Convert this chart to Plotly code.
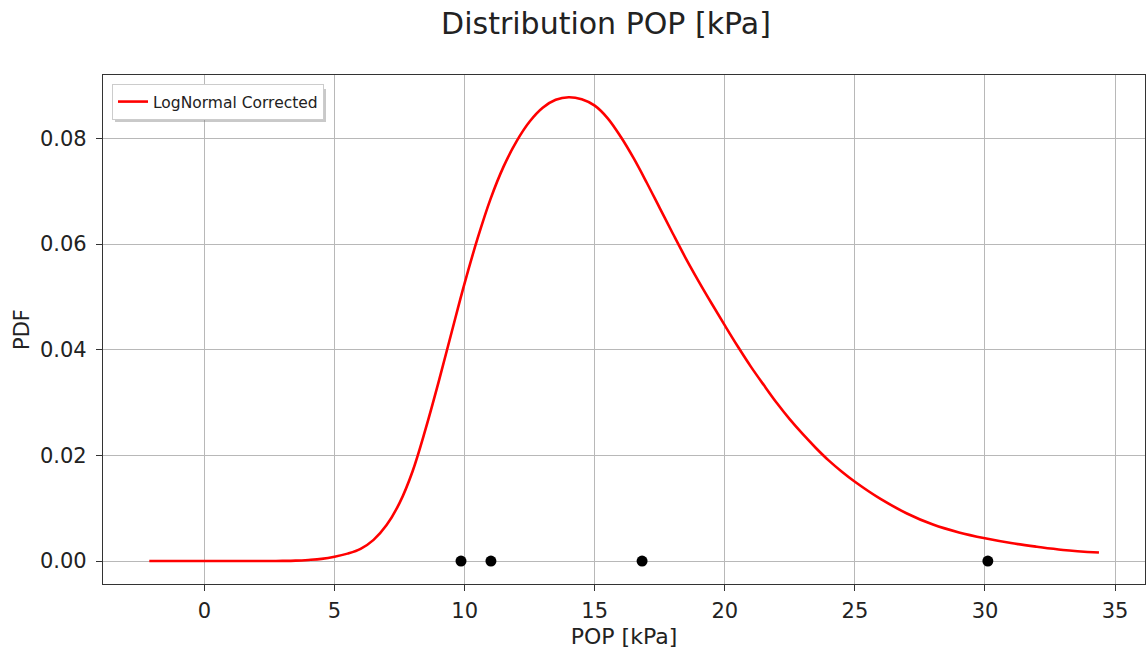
import plotly.graph_objects as go

# Fitted log-normal PDF (corrected), sampled along POP [kPa]
pop_curve = [-2.12, -1.0, 0.0, 1.0, 2.0, 2.5, 3.0, 3.5, 4.0, 4.5, 5.0, 5.5, 6.0, 6.5,
             7.0, 7.5, 8.0, 8.5, 9.0, 9.5, 10.0, 10.5, 11.0, 11.5, 12.0, 12.5, 13.0,
             13.5, 14.0, 14.5, 15.0, 15.5, 16.0, 16.5, 17.0, 17.5, 18.0, 18.5, 19.0,
             19.5, 20.0, 20.5, 21.0, 21.5, 22.0, 22.5, 23.0, 23.5, 24.0, 24.5, 25.0,
             26.0, 27.0, 28.0, 29.0, 30.0, 31.0, 32.0, 33.0, 34.38]
pdf_curve = [0.0, 0.0, 0.0, 0.0, 0.0, 0.000005, 0.00002, 0.00007, 0.0002, 0.0004,
             0.0008, 0.0014, 0.0023, 0.0040, 0.0068, 0.0110, 0.0170, 0.0250, 0.0339,
             0.0433, 0.0526, 0.0611, 0.0686, 0.0747, 0.0795, 0.0832, 0.0858, 0.0873,
             0.0878, 0.0874, 0.0862, 0.0838, 0.0803, 0.0762, 0.0716, 0.0668, 0.0620,
             0.0573, 0.0529, 0.0487, 0.0446, 0.0406, 0.0368, 0.0333, 0.0299, 0.0268,
             0.0240, 0.0214, 0.0190, 0.0169, 0.0150, 0.0117, 0.0090, 0.0069, 0.0054,
             0.0043, 0.0034, 0.0027, 0.0021, 0.0016]

# Observed POP samples plotted on the baseline
pop_samples = [9.86, 11.01, 16.82, 30.11]
pdf_samples = [0.0, 0.0, 0.0, 0.0]

x_ticks = [0, 5, 10, 15, 20, 25, 30, 35]
y_ticks = [0.00, 0.02, 0.04, 0.06, 0.08]

FONT = "DejaVu Sans"
TXT = "#222222"
GRID = "#b8b8b8"
W, H = 1147, 650
ML, MR, MT, MB = 103, 2, 75, 66
PW, PH = W - ML - MR, H - MT - MB

fig = go.Figure()
fig.add_trace(go.Scatter(
    x=pop_curve, y=pdf_curve, mode="lines", name="LogNormal Corrected",
    line=dict(color="red", width=2.6, shape="spline", smoothing=1.0),
))
fig.add_trace(go.Scatter(
    x=pop_samples, y=pdf_samples, mode="markers", showlegend=False,
    marker=dict(color="black", size=11),
))

axis_common = dict(
    showgrid=True, gridcolor=GRID, gridwidth=1, zeroline=False,
    showline=True, linecolor="#333333", linewidth=1.2, mirror=True,
    ticks="outside", ticklen=6, tickcolor="#333333", tickwidth=1.2,
    tickfont=dict(family=FONT, size=21, color=TXT),
)


def px_to_paper_x(px):
    return (px - ML) / PW


def px_to_paper_y(py):
    return 1 - (py - MT) / PH


# soft drop shadow peeking out below/right of the legend box
fig.add_shape(type="rect", xref="paper", yref="paper", layer="above",
              x0=px_to_paper_x(115), x1=px_to_paper_x(326),
              y0=px_to_paper_y(122), y1=px_to_paper_y(89),
              fillcolor="rgba(120,120,120,0.40)", line=dict(width=0))

fig.update_layout(
    width=W, height=H,
    margin=dict(l=ML, r=MR, t=MT, b=MB),
    paper_bgcolor="white", plot_bgcolor="white",
    font=dict(family=FONT, color=TXT),
    title=dict(text="Distribution POP [kPa]", x=px_to_paper_x(606), xref="paper",
               xanchor="center", y=1 - 23 / H, yanchor="middle",
               font=dict(family=FONT, size=30, color=TXT)),
    xaxis=dict(range=[-3.9, 36.15], tickvals=x_ticks,
               title=dict(text="POP [kPa]", font=dict(family=FONT, size=22, color=TXT),
                          standoff=6),
               ticklabelstandoff=2, **axis_common),
    yaxis=dict(range=[-0.00435, 0.0920], tickvals=y_ticks, tickformat=".2f",
               title=dict(text="PDF", font=dict(family=FONT, size=21, color=TXT),
                          standoff=4),
               ticklabelstandoff=5, **axis_common),
    legend=dict(x=px_to_paper_x(112), y=px_to_paper_y(84), xanchor="left", yanchor="top",
                bgcolor="white", bordercolor="#cccccc", borderwidth=1,
                font=dict(family=FONT, size=15.5, color=TXT),
                itemwidth=30, tracegroupgap=0),
    showlegend=True,
)

fig.write_html("out.html")
